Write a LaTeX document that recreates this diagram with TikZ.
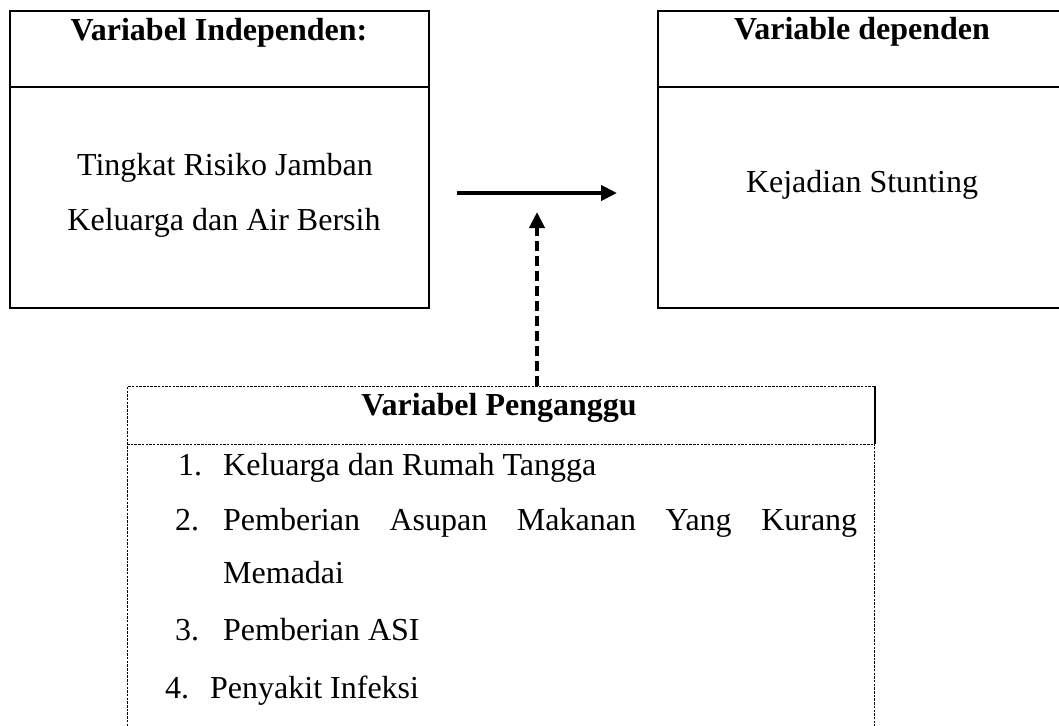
\documentclass[tikz,border=0pt]{standalone}
\usepackage{fontspec}
\setmainfont{Liberation Serif}
\usetikzlibrary{arrows.meta}
\begin{document}
\begin{tikzpicture}[x=1pt,y=-1pt,
  solidbox/.style={draw=black, line width=2pt, inner sep=0pt, anchor=north west},
  dotbox/.style={draw=black, line width=0.8pt, dash pattern=on 2.5pt off 1.2pt, inner sep=0pt, anchor=north west},
  lbl/.style={inner sep=0pt, anchor=base, font=\fontsize{32}{38}\selectfont},
  ttl/.style={inner sep=0pt, anchor=base, font=\fontsize{32}{38}\selectfont\bfseries},
  item/.style={inner sep=0pt, anchor=base west, font=\fontsize{32}{38}\selectfont},
  flow/.style={line width=4pt, -{Triangle[length=16pt,width=15pt]}},
]
\useasboundingbox (0,0) rectangle (1059,725);
\fill[white] (0,0) rectangle (1059,725);

% boxes
\node[solidbox, minimum width=419pt, minimum height=297pt] (ind) at (9,10) {};
\node[solidbox, minimum width=420pt, minimum height=297pt] (dep) at (657,10) {};
\node[dotbox, minimum width=747pt, minimum height=400pt] (pg) at (127,386) {};
\draw[line width=2pt] (ind.west |- 0,87) -- (ind.east |- 0,87);
\draw[line width=2pt] (dep.west |- 0,87) -- (dep.east |- 0,87);
\draw[line width=0.8pt, dash pattern=on 2.5pt off 1.2pt] (pg.west |- 0,444) -- (pg.east |- 0,444);
\draw[line width=1.5pt] (pg.north east) -- (pg.east |- 0,444);

% texts
\node[ttl] (t1) at (219,41) {Variabel Independen:};
\node[lbl] (a1) at (225,175) {Tingkat Risiko Jamban};
\node[lbl] (a2) at (224,230) {Keluarga dan Air Bersih};
\node[ttl] (t2) at (862,40) {Variable dependen};
\node[lbl] (b1) at (862,192) {Kejadian Stunting};
\node[ttl] (t3) at (499,415) {Variabel Penganggu};

\node[item] (n1) at (178,475) {1.};
\node[item] (i1) at (223,475) {Keluarga dan Rumah Tangga};
\node[item] (n2) at (175,530) {2.};
\node[item] (i2) at (223,530) {\hbox to 634pt{Pemberian\hfill Asupan\hfill Makanan\hfill Yang\hfill Kurang}};
\node[item] (i2b) at (223,583) {Memadai};
\node[item] (n3) at (175,640) {3.};
\node[item] (i3) at (223,640) {Pemberian ASI};
\node[item] (n4) at (165,698) {4.};
\node[item] (i4) at (210,698) {Penyakit Infeksi};

% connectors
\coordinate (hs) at (457,193);
\coordinate (he) at (617,193);
\draw[flow] (hs) -- (he);
\coordinate (vt) at (537,212);
\draw[flow, dash pattern=on 10pt off 5pt] (pg.north -| vt) -- (vt);
\end{tikzpicture}
\end{document}
